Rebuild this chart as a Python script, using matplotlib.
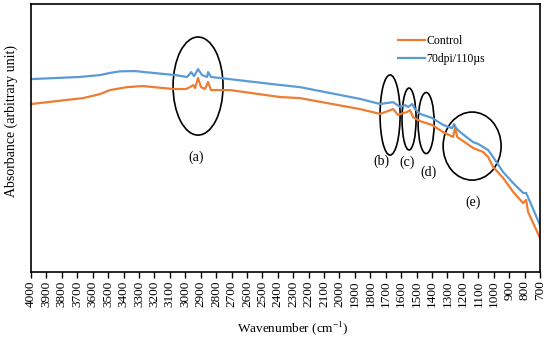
import numpy as np
import matplotlib
matplotlib.use('Agg')
import matplotlib.pyplot as plt
from matplotlib.patches import Ellipse

plt.rcParams['font.family'] = ['Liberation Serif', 'DejaVu Serif']
plt.rcParams['mathtext.fontset'] = 'custom'
plt.rcParams['mathtext.rm'] = 'Liberation Serif'

# FTIR spectra, values (arbitrary absorbance units)
wn_control = [4000, 3663, 3553, 3488, 3377, 3274, 3079, 2995, 2969, 2949, 2936, 2917,
              2898, 2872, 2852, 2833, 2709, 2385, 2256, 1866, 1737, 1652, 1620,
              1588, 1562, 1542, 1523, 1477, 1400, 1328, 1263, 1250, 1237, 1134,
              1069, 1036, 1004, 939, 874, 809, 790, 777, 700]
abs_control = [0.627, 0.649, 0.664, 0.679, 0.690, 0.694, 0.683, 0.683, 0.690, 0.698, 0.687,
               0.724, 0.690, 0.683, 0.709, 0.679, 0.679, 0.653, 0.649, 0.608, 0.590,
               0.608, 0.586, 0.593, 0.597, 0.604, 0.578, 0.563, 0.549, 0.522, 0.504,
               0.541, 0.504, 0.463, 0.448, 0.429, 0.392, 0.351, 0.299, 0.257, 0.269,
               0.224, 0.127]

wn_treated = [4000, 3682, 3553, 3488, 3423, 3326, 3261, 3066, 2988, 2962, 2943, 2917, 2891,
              2859, 2852, 2833, 2774, 2385, 2256, 1866, 1737, 1652, 1607, 1575,
              1555, 1529, 1510, 1477, 1400, 1328, 1270, 1257, 1244, 1218, 1134,
              1101, 1036, 1004, 939, 874, 809, 790, 764, 700]
abs_treated = [0.720, 0.728, 0.735, 0.743, 0.749, 0.750, 0.746, 0.735, 0.728, 0.746, 0.731, 0.757,
               0.735, 0.728, 0.746, 0.728, 0.724, 0.698, 0.690, 0.646, 0.627, 0.634,
               0.616, 0.623, 0.616, 0.627, 0.608, 0.590, 0.575, 0.549, 0.537, 0.552,
               0.537, 0.522, 0.485, 0.478, 0.455, 0.429, 0.373, 0.332, 0.295, 0.295,
               0.261, 0.175]

series_names = ['Control', '70dpi/110\u00b5s']
tick_vals = list(range(4000, 600, -100))

# marked regions: label, centre wavenumber, centre absorbance, width, height
regions = ['(a)', '(b)', '(c)', '(d)', '(e)']
reg_wn = [2917, 1672, 1549, 1438, 1140]
reg_abs = [0.694, 0.586, 0.571, 0.556, 0.470]
reg_w = [324, 130, 91, 104, 376]
reg_h = [0.366, 0.299, 0.231, 0.228, 0.254]
lab_wn = [2930, 1730, 1562, 1425, 1134]
lab_abs = [0.429, 0.414, 0.410, 0.373, 0.261]

fig = plt.figure(figsize=(5.5, 3.39), dpi=100)
ax = fig.add_axes([0.0564, 0.1976, 0.9254, 0.7904])

ax.plot(wn_control, abs_control, c='#ED7D31', lw=1.6, label=series_names[0])
ax.plot(wn_treated, abs_treated, c='#5B9BD5', lw=1.6, label=series_names[1])

for i in range(len(regions)):
	ax.add_patch(Ellipse((reg_wn[i], reg_abs[i]), reg_w[i], reg_h[i],
	                     fill=False, ec='black', lw=1.2))
	ax.text(lab_wn[i], lab_abs[i], regions[i], fontsize=10, ha='center', va='center')

ax.set_xlim(4000, 700)
ax.set_ylim(0, 1)
ax.set_xticks(tick_vals)
ax.set_xticklabels([str(t) for t in tick_vals], rotation=90, fontsize=9.5)
ax.set_yticks([])
ax.tick_params(axis='x', direction='out', length=4, width=1, pad=2)
for s in ax.spines.values():
	s.set_linewidth(1.2)

ax.set_xlabel('Wavenumber (cm$^{-1}$)', fontsize=9.5)
ax.xaxis.set_label_coords(0.515, -0.18)
ax.set_ylabel('Absorbance (arbitrary unit)', fontsize=10)
ax.yaxis.set_label_coords(-0.026, 0.565)

ax.legend(loc='upper left', bbox_to_anchor=(0.7, 0.925), frameon=False, fontsize=8.5,
          handlelength=2.3, handletextpad=0.1, labelspacing=0.55)

fig.savefig('out.png', dpi=100)
